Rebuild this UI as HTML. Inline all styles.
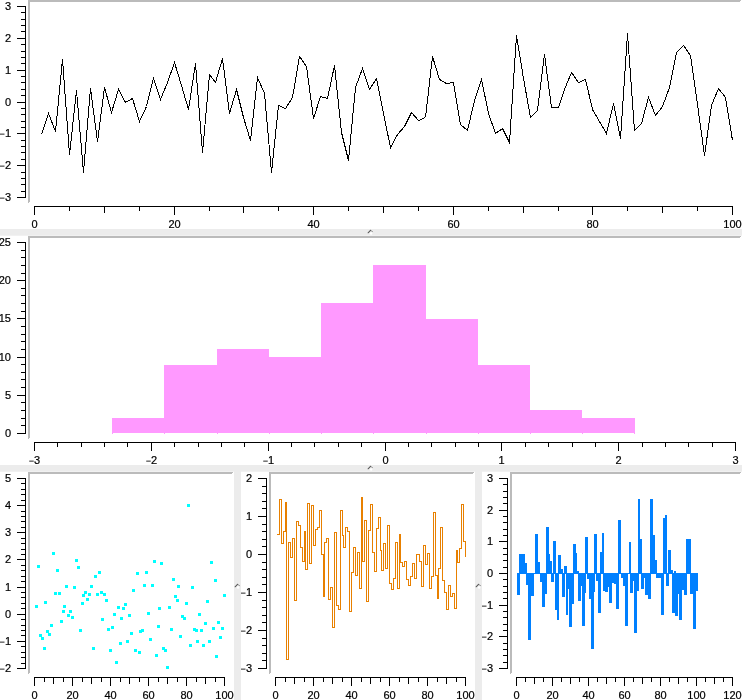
<!DOCTYPE html>
<html lang="en">
<head>
<meta charset="utf-8">
<title>Graphs</title>
<style>
html,body{margin:0;padding:0;background:#fff;overflow:hidden}
svg{display:block}
svg text .m{font-size:9px;stroke-width:.1px}
svg text{font-family:"Liberation Sans", sans-serif;font-size:11px;fill:#000;stroke:#000;stroke-width:.2px}
</style>
</head>
<body>
<svg width="742" height="700" viewBox="0 0 742 700" shape-rendering="crispEdges">
<rect x="0" y="0" width="742" height="700" fill="#fff"/>
<rect x="0" y="229" width="742" height="6" fill="#ececec"/>
<rect x="0" y="235" width="742" height="1" fill="#f1f1f1"/>
<rect x="0" y="465" width="742" height="6" fill="#ececec"/>
<rect x="0" y="471" width="742" height="1" fill="#f1f1f1"/>
<rect x="234" y="471" width="7" height="229" fill="#ececec"/>
<rect x="475" y="471" width="7" height="229" fill="#ececec"/>
<g shape-rendering="geometricPrecision" fill="none" stroke-linecap="round"><circle cx="371.1" cy="233.5" r="1.25" fill="#fff"/><path d="M370.5,230.3Q371.8,230.5 372.5,231.7" stroke="#8a8a8a" stroke-width="1"/><path d="M368.1,232.8L370.5,230.3" stroke="#585858" stroke-width="1.05"/></g>
<g shape-rendering="geometricPrecision" fill="none" stroke-linecap="round"><circle cx="371.1" cy="469.5" r="1.25" fill="#fff"/><path d="M370.5,466.3Q371.8,466.5 372.5,467.7" stroke="#8a8a8a" stroke-width="1"/><path d="M368.1,468.8L370.5,466.3" stroke="#585858" stroke-width="1.05"/></g>
<g shape-rendering="geometricPrecision" fill="none" stroke-linecap="round"><circle cx="238.1" cy="587.5" r="1.25" fill="#fff"/><path d="M237.5,584.3Q238.8,584.5 239.5,585.7" stroke="#8a8a8a" stroke-width="1"/><path d="M235.1,586.8L237.5,584.3" stroke="#585858" stroke-width="1.05"/></g>
<g shape-rendering="geometricPrecision" fill="none" stroke-linecap="round"><circle cx="479.1" cy="587.5" r="1.25" fill="#fff"/><path d="M478.5,584.3Q479.8,584.5 480.5,585.7" stroke="#8a8a8a" stroke-width="1"/><path d="M476.1,586.8L478.5,584.3" stroke="#585858" stroke-width="1.05"/></g>
<rect x="28" y="0" width="713" height="1" fill="#bbbbbb"/>
<rect x="28" y="1" width="712" height="1" fill="#bbbbbb"/>
<rect x="28" y="0" width="1" height="203" fill="#bbbbbb"/>
<rect x="29" y="0" width="1" height="202" fill="#bbbbbb"/>
<rect x="28" y="236" width="713" height="1" fill="#bbbbbb"/>
<rect x="28" y="237" width="712" height="1" fill="#bbbbbb"/>
<rect x="28" y="236" width="1" height="203" fill="#bbbbbb"/>
<rect x="29" y="236" width="1" height="202" fill="#bbbbbb"/>
<rect x="28" y="472" width="205" height="1" fill="#bbbbbb"/>
<rect x="28" y="473" width="204" height="1" fill="#bbbbbb"/>
<rect x="28" y="472" width="1" height="202" fill="#bbbbbb"/>
<rect x="29" y="472" width="1" height="201" fill="#bbbbbb"/>
<rect x="269" y="472" width="205" height="1" fill="#bbbbbb"/>
<rect x="269" y="473" width="204" height="1" fill="#bbbbbb"/>
<rect x="269" y="472" width="1" height="202" fill="#bbbbbb"/>
<rect x="270" y="472" width="1" height="201" fill="#bbbbbb"/>
<rect x="510" y="472" width="231" height="1" fill="#bbbbbb"/>
<rect x="510" y="473" width="230" height="1" fill="#bbbbbb"/>
<rect x="510" y="472" width="1" height="202" fill="#bbbbbb"/>
<rect x="511" y="472" width="1" height="201" fill="#bbbbbb"/>
<rect x="25" y="6" width="1" height="192" fill="#000"/>
<rect x="17" y="6" width="9" height="1" fill="#000"/>
<text x="11" y="10" text-anchor="end">3</text>
<rect x="21" y="12" width="5" height="1" fill="#000"/>
<rect x="21" y="19" width="5" height="1" fill="#000"/>
<rect x="21" y="25" width="5" height="1" fill="#000"/>
<rect x="21" y="31" width="5" height="1" fill="#000"/>
<rect x="17" y="38" width="9" height="1" fill="#000"/>
<text x="11" y="42" text-anchor="end">2</text>
<rect x="21" y="44" width="5" height="1" fill="#000"/>
<rect x="21" y="51" width="5" height="1" fill="#000"/>
<rect x="21" y="57" width="5" height="1" fill="#000"/>
<rect x="21" y="63" width="5" height="1" fill="#000"/>
<rect x="17" y="70" width="9" height="1" fill="#000"/>
<text x="11" y="74" text-anchor="end">1</text>
<rect x="21" y="76" width="5" height="1" fill="#000"/>
<rect x="21" y="82" width="5" height="1" fill="#000"/>
<rect x="21" y="89" width="5" height="1" fill="#000"/>
<rect x="21" y="95" width="5" height="1" fill="#000"/>
<rect x="17" y="102" width="9" height="1" fill="#000"/>
<text x="11" y="106" text-anchor="end">0</text>
<rect x="21" y="108" width="5" height="1" fill="#000"/>
<rect x="21" y="114" width="5" height="1" fill="#000"/>
<rect x="21" y="121" width="5" height="1" fill="#000"/>
<rect x="21" y="127" width="5" height="1" fill="#000"/>
<rect x="17" y="133" width="9" height="1" fill="#000"/>
<text x="11" y="137" text-anchor="end"><tspan class="m" dy="-.3">−</tspan><tspan dy=".3">1</tspan></text>
<rect x="21" y="140" width="5" height="1" fill="#000"/>
<rect x="21" y="146" width="5" height="1" fill="#000"/>
<rect x="21" y="152" width="5" height="1" fill="#000"/>
<rect x="21" y="159" width="5" height="1" fill="#000"/>
<rect x="17" y="165" width="9" height="1" fill="#000"/>
<text x="11" y="169" text-anchor="end"><tspan class="m" dy="-.3">−</tspan><tspan dy=".3">2</tspan></text>
<rect x="21" y="172" width="5" height="1" fill="#000"/>
<rect x="21" y="178" width="5" height="1" fill="#000"/>
<rect x="21" y="184" width="5" height="1" fill="#000"/>
<rect x="21" y="191" width="5" height="1" fill="#000"/>
<rect x="17" y="197" width="9" height="1" fill="#000"/>
<text x="11" y="201" text-anchor="end"><tspan class="m" dy="-.3">−</tspan><tspan dy=".3">3</tspan></text>
<rect x="34" y="206" width="699" height="1" fill="#000"/>
<rect x="34" y="206" width="1" height="9" fill="#000"/>
<text x="34.5" y="228" text-anchor="middle">0</text>
<rect x="69" y="206" width="1" height="5" fill="#000"/>
<rect x="104" y="206" width="1" height="7" fill="#000"/>
<rect x="139" y="206" width="1" height="5" fill="#000"/>
<rect x="174" y="206" width="1" height="9" fill="#000"/>
<text x="174.5" y="228" text-anchor="middle">20</text>
<rect x="209" y="206" width="1" height="5" fill="#000"/>
<rect x="243" y="206" width="1" height="7" fill="#000"/>
<rect x="278" y="206" width="1" height="5" fill="#000"/>
<rect x="313" y="206" width="1" height="9" fill="#000"/>
<text x="313.5" y="228" text-anchor="middle">40</text>
<rect x="348" y="206" width="1" height="5" fill="#000"/>
<rect x="383" y="206" width="1" height="7" fill="#000"/>
<rect x="418" y="206" width="1" height="5" fill="#000"/>
<rect x="453" y="206" width="1" height="9" fill="#000"/>
<text x="453.5" y="228" text-anchor="middle">60</text>
<rect x="488" y="206" width="1" height="5" fill="#000"/>
<rect x="523" y="206" width="1" height="7" fill="#000"/>
<rect x="558" y="206" width="1" height="5" fill="#000"/>
<rect x="592" y="206" width="1" height="9" fill="#000"/>
<text x="592.5" y="228" text-anchor="middle">80</text>
<rect x="627" y="206" width="1" height="5" fill="#000"/>
<rect x="662" y="206" width="1" height="7" fill="#000"/>
<rect x="697" y="206" width="1" height="5" fill="#000"/>
<rect x="732" y="206" width="1" height="9" fill="#000"/>
<text x="732.5" y="228" text-anchor="middle">100</text>
<rect x="25" y="242" width="1" height="192" fill="#000"/>
<rect x="17" y="242" width="9" height="1" fill="#000"/>
<text x="11" y="246" text-anchor="end">25</text>
<rect x="21" y="250" width="5" height="1" fill="#000"/>
<rect x="21" y="257" width="5" height="1" fill="#000"/>
<rect x="21" y="265" width="5" height="1" fill="#000"/>
<rect x="21" y="273" width="5" height="1" fill="#000"/>
<rect x="17" y="280" width="9" height="1" fill="#000"/>
<text x="11" y="284" text-anchor="end">20</text>
<rect x="21" y="288" width="5" height="1" fill="#000"/>
<rect x="21" y="295" width="5" height="1" fill="#000"/>
<rect x="21" y="303" width="5" height="1" fill="#000"/>
<rect x="21" y="311" width="5" height="1" fill="#000"/>
<rect x="17" y="318" width="9" height="1" fill="#000"/>
<text x="11" y="322" text-anchor="end">15</text>
<rect x="21" y="326" width="5" height="1" fill="#000"/>
<rect x="21" y="334" width="5" height="1" fill="#000"/>
<rect x="21" y="341" width="5" height="1" fill="#000"/>
<rect x="21" y="349" width="5" height="1" fill="#000"/>
<rect x="17" y="357" width="9" height="1" fill="#000"/>
<text x="11" y="361" text-anchor="end">10</text>
<rect x="21" y="364" width="5" height="1" fill="#000"/>
<rect x="21" y="372" width="5" height="1" fill="#000"/>
<rect x="21" y="379" width="5" height="1" fill="#000"/>
<rect x="21" y="387" width="5" height="1" fill="#000"/>
<rect x="17" y="395" width="9" height="1" fill="#000"/>
<text x="11" y="399" text-anchor="end">5</text>
<rect x="21" y="402" width="5" height="1" fill="#000"/>
<rect x="21" y="410" width="5" height="1" fill="#000"/>
<rect x="21" y="418" width="5" height="1" fill="#000"/>
<rect x="21" y="425" width="5" height="1" fill="#000"/>
<rect x="17" y="433" width="9" height="1" fill="#000"/>
<text x="11" y="437" text-anchor="end">0</text>
<rect x="34" y="442" width="702" height="1" fill="#000"/>
<rect x="34" y="442" width="1" height="9" fill="#000"/>
<text x="34.5" y="464" text-anchor="middle"><tspan class="m" dy="-.3">−</tspan><tspan dy=".3">3</tspan></text>
<rect x="57" y="442" width="1" height="5" fill="#000"/>
<rect x="81" y="442" width="1" height="5" fill="#000"/>
<rect x="104" y="442" width="1" height="5" fill="#000"/>
<rect x="127" y="442" width="1" height="5" fill="#000"/>
<rect x="151" y="442" width="1" height="9" fill="#000"/>
<text x="151.5" y="464" text-anchor="middle"><tspan class="m" dy="-.3">−</tspan><tspan dy=".3">2</tspan></text>
<rect x="174" y="442" width="1" height="5" fill="#000"/>
<rect x="198" y="442" width="1" height="5" fill="#000"/>
<rect x="221" y="442" width="1" height="5" fill="#000"/>
<rect x="244" y="442" width="1" height="5" fill="#000"/>
<rect x="268" y="442" width="1" height="9" fill="#000"/>
<text x="268.5" y="464" text-anchor="middle"><tspan class="m" dy="-.3">−</tspan><tspan dy=".3">1</tspan></text>
<rect x="291" y="442" width="1" height="5" fill="#000"/>
<rect x="314" y="442" width="1" height="5" fill="#000"/>
<rect x="338" y="442" width="1" height="5" fill="#000"/>
<rect x="361" y="442" width="1" height="5" fill="#000"/>
<rect x="385" y="442" width="1" height="9" fill="#000"/>
<text x="385.5" y="464" text-anchor="middle">0</text>
<rect x="408" y="442" width="1" height="5" fill="#000"/>
<rect x="431" y="442" width="1" height="5" fill="#000"/>
<rect x="455" y="442" width="1" height="5" fill="#000"/>
<rect x="478" y="442" width="1" height="5" fill="#000"/>
<rect x="501" y="442" width="1" height="9" fill="#000"/>
<text x="501.5" y="464" text-anchor="middle">1</text>
<rect x="525" y="442" width="1" height="5" fill="#000"/>
<rect x="548" y="442" width="1" height="5" fill="#000"/>
<rect x="572" y="442" width="1" height="5" fill="#000"/>
<rect x="595" y="442" width="1" height="5" fill="#000"/>
<rect x="618" y="442" width="1" height="9" fill="#000"/>
<text x="618.5" y="464" text-anchor="middle">2</text>
<rect x="642" y="442" width="1" height="5" fill="#000"/>
<rect x="665" y="442" width="1" height="5" fill="#000"/>
<rect x="688" y="442" width="1" height="5" fill="#000"/>
<rect x="712" y="442" width="1" height="5" fill="#000"/>
<rect x="735" y="442" width="1" height="9" fill="#000"/>
<text x="735.5" y="464" text-anchor="middle">3</text>
<rect x="25" y="478" width="1" height="191" fill="#000"/>
<rect x="17" y="478" width="9" height="1" fill="#000"/>
<text x="11" y="482" text-anchor="end">5</text>
<rect x="21" y="483" width="5" height="1" fill="#000"/>
<rect x="21" y="489" width="5" height="1" fill="#000"/>
<rect x="21" y="494" width="5" height="1" fill="#000"/>
<rect x="21" y="500" width="5" height="1" fill="#000"/>
<rect x="17" y="505" width="9" height="1" fill="#000"/>
<text x="11" y="509" text-anchor="end">4</text>
<rect x="21" y="511" width="5" height="1" fill="#000"/>
<rect x="21" y="516" width="5" height="1" fill="#000"/>
<rect x="21" y="521" width="5" height="1" fill="#000"/>
<rect x="21" y="527" width="5" height="1" fill="#000"/>
<rect x="17" y="532" width="9" height="1" fill="#000"/>
<text x="11" y="536" text-anchor="end">3</text>
<rect x="21" y="538" width="5" height="1" fill="#000"/>
<rect x="21" y="543" width="5" height="1" fill="#000"/>
<rect x="21" y="549" width="5" height="1" fill="#000"/>
<rect x="21" y="554" width="5" height="1" fill="#000"/>
<rect x="17" y="559" width="9" height="1" fill="#000"/>
<text x="11" y="563" text-anchor="end">2</text>
<rect x="21" y="565" width="5" height="1" fill="#000"/>
<rect x="21" y="570" width="5" height="1" fill="#000"/>
<rect x="21" y="576" width="5" height="1" fill="#000"/>
<rect x="21" y="581" width="5" height="1" fill="#000"/>
<rect x="17" y="587" width="9" height="1" fill="#000"/>
<text x="11" y="591" text-anchor="end">1</text>
<rect x="21" y="592" width="5" height="1" fill="#000"/>
<rect x="21" y="597" width="5" height="1" fill="#000"/>
<rect x="21" y="603" width="5" height="1" fill="#000"/>
<rect x="21" y="608" width="5" height="1" fill="#000"/>
<rect x="17" y="614" width="9" height="1" fill="#000"/>
<text x="11" y="618" text-anchor="end">0</text>
<rect x="21" y="619" width="5" height="1" fill="#000"/>
<rect x="21" y="625" width="5" height="1" fill="#000"/>
<rect x="21" y="630" width="5" height="1" fill="#000"/>
<rect x="21" y="635" width="5" height="1" fill="#000"/>
<rect x="17" y="641" width="9" height="1" fill="#000"/>
<text x="11" y="645" text-anchor="end"><tspan class="m" dy="-.3">−</tspan><tspan dy=".3">1</tspan></text>
<rect x="21" y="646" width="5" height="1" fill="#000"/>
<rect x="21" y="652" width="5" height="1" fill="#000"/>
<rect x="21" y="657" width="5" height="1" fill="#000"/>
<rect x="21" y="663" width="5" height="1" fill="#000"/>
<rect x="17" y="668" width="9" height="1" fill="#000"/>
<text x="11" y="672" text-anchor="end"><tspan class="m" dy="-.3">−</tspan><tspan dy=".3">2</tspan></text>
<rect x="34" y="677" width="191" height="1" fill="#000"/>
<rect x="34" y="677" width="1" height="9" fill="#000"/>
<text x="34.5" y="699" text-anchor="middle">0</text>
<rect x="44" y="677" width="1" height="5" fill="#000"/>
<rect x="53" y="677" width="1" height="7" fill="#000"/>
<rect x="63" y="677" width="1" height="5" fill="#000"/>
<rect x="72" y="677" width="1" height="9" fill="#000"/>
<text x="72.5" y="699" text-anchor="middle">20</text>
<rect x="82" y="677" width="1" height="5" fill="#000"/>
<rect x="91" y="677" width="1" height="7" fill="#000"/>
<rect x="101" y="677" width="1" height="5" fill="#000"/>
<rect x="110" y="677" width="1" height="9" fill="#000"/>
<text x="110.5" y="699" text-anchor="middle">40</text>
<rect x="120" y="677" width="1" height="5" fill="#000"/>
<rect x="129" y="677" width="1" height="7" fill="#000"/>
<rect x="139" y="677" width="1" height="5" fill="#000"/>
<rect x="148" y="677" width="1" height="9" fill="#000"/>
<text x="148.5" y="699" text-anchor="middle">60</text>
<rect x="158" y="677" width="1" height="5" fill="#000"/>
<rect x="167" y="677" width="1" height="7" fill="#000"/>
<rect x="177" y="677" width="1" height="5" fill="#000"/>
<rect x="186" y="677" width="1" height="9" fill="#000"/>
<text x="186.5" y="699" text-anchor="middle">80</text>
<rect x="196" y="677" width="1" height="5" fill="#000"/>
<rect x="205" y="677" width="1" height="7" fill="#000"/>
<rect x="215" y="677" width="1" height="5" fill="#000"/>
<rect x="224" y="677" width="1" height="9" fill="#000"/>
<text x="224.5" y="699" text-anchor="middle">100</text>
<rect x="266" y="478" width="1" height="191" fill="#000"/>
<rect x="258" y="478" width="9" height="1" fill="#000"/>
<text x="252" y="482" text-anchor="end">2</text>
<rect x="262" y="486" width="5" height="1" fill="#000"/>
<rect x="262" y="493" width="5" height="1" fill="#000"/>
<rect x="262" y="501" width="5" height="1" fill="#000"/>
<rect x="262" y="508" width="5" height="1" fill="#000"/>
<rect x="258" y="516" width="9" height="1" fill="#000"/>
<text x="252" y="520" text-anchor="end">1</text>
<rect x="262" y="524" width="5" height="1" fill="#000"/>
<rect x="262" y="531" width="5" height="1" fill="#000"/>
<rect x="262" y="539" width="5" height="1" fill="#000"/>
<rect x="262" y="546" width="5" height="1" fill="#000"/>
<rect x="258" y="554" width="9" height="1" fill="#000"/>
<text x="252" y="558" text-anchor="end">0</text>
<rect x="262" y="562" width="5" height="1" fill="#000"/>
<rect x="262" y="569" width="5" height="1" fill="#000"/>
<rect x="262" y="577" width="5" height="1" fill="#000"/>
<rect x="262" y="584" width="5" height="1" fill="#000"/>
<rect x="258" y="592" width="9" height="1" fill="#000"/>
<text x="252" y="596" text-anchor="end"><tspan class="m" dy="-.3">−</tspan><tspan dy=".3">1</tspan></text>
<rect x="262" y="600" width="5" height="1" fill="#000"/>
<rect x="262" y="607" width="5" height="1" fill="#000"/>
<rect x="262" y="615" width="5" height="1" fill="#000"/>
<rect x="262" y="622" width="5" height="1" fill="#000"/>
<rect x="258" y="630" width="9" height="1" fill="#000"/>
<text x="252" y="634" text-anchor="end"><tspan class="m" dy="-.3">−</tspan><tspan dy=".3">2</tspan></text>
<rect x="262" y="638" width="5" height="1" fill="#000"/>
<rect x="262" y="645" width="5" height="1" fill="#000"/>
<rect x="262" y="653" width="5" height="1" fill="#000"/>
<rect x="262" y="660" width="5" height="1" fill="#000"/>
<rect x="258" y="668" width="9" height="1" fill="#000"/>
<text x="252" y="672" text-anchor="end"><tspan class="m" dy="-.3">−</tspan><tspan dy=".3">3</tspan></text>
<rect x="275" y="677" width="191" height="1" fill="#000"/>
<rect x="275" y="677" width="1" height="9" fill="#000"/>
<text x="275.5" y="699" text-anchor="middle">0</text>
<rect x="285" y="677" width="1" height="5" fill="#000"/>
<rect x="294" y="677" width="1" height="7" fill="#000"/>
<rect x="304" y="677" width="1" height="5" fill="#000"/>
<rect x="313" y="677" width="1" height="9" fill="#000"/>
<text x="313.5" y="699" text-anchor="middle">20</text>
<rect x="323" y="677" width="1" height="5" fill="#000"/>
<rect x="332" y="677" width="1" height="7" fill="#000"/>
<rect x="342" y="677" width="1" height="5" fill="#000"/>
<rect x="351" y="677" width="1" height="9" fill="#000"/>
<text x="351.5" y="699" text-anchor="middle">40</text>
<rect x="361" y="677" width="1" height="5" fill="#000"/>
<rect x="370" y="677" width="1" height="7" fill="#000"/>
<rect x="380" y="677" width="1" height="5" fill="#000"/>
<rect x="389" y="677" width="1" height="9" fill="#000"/>
<text x="389.5" y="699" text-anchor="middle">60</text>
<rect x="399" y="677" width="1" height="5" fill="#000"/>
<rect x="408" y="677" width="1" height="7" fill="#000"/>
<rect x="418" y="677" width="1" height="5" fill="#000"/>
<rect x="427" y="677" width="1" height="9" fill="#000"/>
<text x="427.5" y="699" text-anchor="middle">80</text>
<rect x="437" y="677" width="1" height="5" fill="#000"/>
<rect x="446" y="677" width="1" height="7" fill="#000"/>
<rect x="456" y="677" width="1" height="5" fill="#000"/>
<rect x="465" y="677" width="1" height="9" fill="#000"/>
<text x="465.5" y="699" text-anchor="middle">100</text>
<rect x="507" y="478" width="1" height="191" fill="#000"/>
<rect x="499" y="478" width="9" height="1" fill="#000"/>
<text x="493" y="482" text-anchor="end">3</text>
<rect x="503" y="484" width="5" height="1" fill="#000"/>
<rect x="503" y="491" width="5" height="1" fill="#000"/>
<rect x="503" y="497" width="5" height="1" fill="#000"/>
<rect x="503" y="503" width="5" height="1" fill="#000"/>
<rect x="499" y="510" width="9" height="1" fill="#000"/>
<text x="493" y="514" text-anchor="end">2</text>
<rect x="503" y="516" width="5" height="1" fill="#000"/>
<rect x="503" y="522" width="5" height="1" fill="#000"/>
<rect x="503" y="529" width="5" height="1" fill="#000"/>
<rect x="503" y="535" width="5" height="1" fill="#000"/>
<rect x="499" y="541" width="9" height="1" fill="#000"/>
<text x="493" y="545" text-anchor="end">1</text>
<rect x="503" y="548" width="5" height="1" fill="#000"/>
<rect x="503" y="554" width="5" height="1" fill="#000"/>
<rect x="503" y="560" width="5" height="1" fill="#000"/>
<rect x="503" y="567" width="5" height="1" fill="#000"/>
<rect x="499" y="573" width="9" height="1" fill="#000"/>
<text x="493" y="577" text-anchor="end">0</text>
<rect x="503" y="579" width="5" height="1" fill="#000"/>
<rect x="503" y="586" width="5" height="1" fill="#000"/>
<rect x="503" y="592" width="5" height="1" fill="#000"/>
<rect x="503" y="598" width="5" height="1" fill="#000"/>
<rect x="499" y="605" width="9" height="1" fill="#000"/>
<text x="493" y="609" text-anchor="end"><tspan class="m" dy="-.3">−</tspan><tspan dy=".3">1</tspan></text>
<rect x="503" y="611" width="5" height="1" fill="#000"/>
<rect x="503" y="617" width="5" height="1" fill="#000"/>
<rect x="503" y="624" width="5" height="1" fill="#000"/>
<rect x="503" y="630" width="5" height="1" fill="#000"/>
<rect x="499" y="636" width="9" height="1" fill="#000"/>
<text x="493" y="640" text-anchor="end"><tspan class="m" dy="-.3">−</tspan><tspan dy=".3">2</tspan></text>
<rect x="503" y="643" width="5" height="1" fill="#000"/>
<rect x="503" y="649" width="5" height="1" fill="#000"/>
<rect x="503" y="655" width="5" height="1" fill="#000"/>
<rect x="503" y="662" width="5" height="1" fill="#000"/>
<rect x="499" y="668" width="9" height="1" fill="#000"/>
<text x="493" y="672" text-anchor="end"><tspan class="m" dy="-.3">−</tspan><tspan dy=".3">3</tspan></text>
<rect x="516" y="677" width="217" height="1" fill="#000"/>
<rect x="516" y="677" width="1" height="9" fill="#000"/>
<text x="516.5" y="699" text-anchor="middle">0</text>
<rect x="525" y="677" width="1" height="5" fill="#000"/>
<rect x="534" y="677" width="1" height="7" fill="#000"/>
<rect x="543" y="677" width="1" height="5" fill="#000"/>
<rect x="552" y="677" width="1" height="9" fill="#000"/>
<text x="552.5" y="699" text-anchor="middle">20</text>
<rect x="561" y="677" width="1" height="5" fill="#000"/>
<rect x="570" y="677" width="1" height="7" fill="#000"/>
<rect x="579" y="677" width="1" height="5" fill="#000"/>
<rect x="588" y="677" width="1" height="9" fill="#000"/>
<text x="588.5" y="699" text-anchor="middle">40</text>
<rect x="597" y="677" width="1" height="5" fill="#000"/>
<rect x="606" y="677" width="1" height="7" fill="#000"/>
<rect x="615" y="677" width="1" height="5" fill="#000"/>
<rect x="624" y="677" width="1" height="9" fill="#000"/>
<text x="624.5" y="699" text-anchor="middle">60</text>
<rect x="633" y="677" width="1" height="5" fill="#000"/>
<rect x="642" y="677" width="1" height="7" fill="#000"/>
<rect x="651" y="677" width="1" height="5" fill="#000"/>
<rect x="660" y="677" width="1" height="9" fill="#000"/>
<text x="660.5" y="699" text-anchor="middle">80</text>
<rect x="669" y="677" width="1" height="5" fill="#000"/>
<rect x="678" y="677" width="1" height="7" fill="#000"/>
<rect x="687" y="677" width="1" height="5" fill="#000"/>
<rect x="696" y="677" width="1" height="9" fill="#000"/>
<text x="696.5" y="699" text-anchor="middle">100</text>
<rect x="705" y="677" width="1" height="5" fill="#000"/>
<rect x="714" y="677" width="1" height="7" fill="#000"/>
<rect x="723" y="677" width="1" height="5" fill="#000"/>
<rect x="732" y="677" width="1" height="9" fill="#000"/>
<text x="732.5" y="699" text-anchor="middle">120</text>
<polyline points="41.5,134.5 48.5,113.5 55.5,131.5 62.5,59.5 69.5,154.5 76.5,90.5 83.5,172.5 90.5,88.5 97.5,141.5 104.5,87.5 111.5,112.5 118.5,89.5 125.5,102.5 132.5,98.5 139.5,121.5 146.5,106.5 153.5,78.5 160.5,99.5 167.5,82.5 174.5,62.5 181.5,85.5 188.5,109.5 195.5,63.5 202.5,152.5 209.5,74.5 215.5,82.5 222.5,58.5 229.5,113.5 236.5,89.5 243.5,117.5 250.5,140.5 257.5,77.5 264.5,93.5 271.5,172.5 278.5,105.5 285.5,108.5 292.5,97.5 299.5,56.5 306.5,66.5 313.5,118.5 320.5,96.5 327.5,98.5 334.5,65.5 341.5,132.5 348.5,160.5 355.5,87.5 362.5,68.5 369.5,89.5 376.5,78.5 383.5,113.5 390.5,147.5 397.5,134.5 404.5,126.5 411.5,112.5 418.5,120.5 425.5,117.5 432.5,56.5 439.5,79.5 446.5,83.5 453.5,82.5 460.5,124.5 467.5,130.5 474.5,100.5 481.5,79.5 488.5,113.5 495.5,133.5 502.5,128.5 509.5,142.5 516.5,35.5 523.5,78.5 530.5,117.5 537.5,110.5 544.5,54.5 551.5,107.5 558.5,107.5 564.5,89.5 571.5,72.5 578.5,82.5 585.5,79.5 592.5,109.5 599.5,121.5 606.5,133.5 613.5,103.5 620.5,138.5 627.5,33.5 634.5,130.5 641.5,123.5 648.5,97.5 655.5,115.5 662.5,106.5 669.5,87.5 676.5,52.5 683.5,45.5 690.5,55.5 697.5,104.5 704.5,155.5 711.5,105.5 718.5,88.5 725.5,97.5 732.5,140.5" fill="none" stroke="#000" stroke-width="1"/>
<rect x="112" y="418" width="52" height="15" fill="#ff99ff"/>
<rect x="112" y="433" width="1" height="1" fill="#ff99ff"/>
<rect x="164" y="365" width="53" height="68" fill="#ff99ff"/>
<rect x="164" y="433" width="1" height="1" fill="#ff99ff"/>
<rect x="217" y="349" width="52" height="84" fill="#ff99ff"/>
<rect x="217" y="433" width="1" height="1" fill="#ff99ff"/>
<rect x="269" y="357" width="52" height="76" fill="#ff99ff"/>
<rect x="269" y="433" width="1" height="1" fill="#ff99ff"/>
<rect x="321" y="303" width="52" height="130" fill="#ff99ff"/>
<rect x="321" y="433" width="1" height="1" fill="#ff99ff"/>
<rect x="373" y="265" width="53" height="168" fill="#ff99ff"/>
<rect x="373" y="433" width="1" height="1" fill="#ff99ff"/>
<rect x="426" y="319" width="52" height="114" fill="#ff99ff"/>
<rect x="426" y="433" width="1" height="1" fill="#ff99ff"/>
<rect x="478" y="365" width="52" height="68" fill="#ff99ff"/>
<rect x="478" y="433" width="1" height="1" fill="#ff99ff"/>
<rect x="530" y="410" width="52" height="23" fill="#ff99ff"/>
<rect x="530" y="433" width="1" height="1" fill="#ff99ff"/>
<rect x="582" y="418" width="53" height="15" fill="#ff99ff"/>
<rect x="582" y="433" width="1" height="1" fill="#ff99ff"/>
<rect x="634" y="433" width="1" height="1" fill="#ff99ff"/>
<rect x="35" y="605" width="3" height="3" fill="#00ffff"/>
<rect x="37" y="565" width="3" height="3" fill="#00ffff"/>
<rect x="39" y="634" width="3" height="3" fill="#00ffff"/>
<rect x="41" y="637" width="3" height="3" fill="#00ffff"/>
<rect x="43" y="647" width="3" height="3" fill="#00ffff"/>
<rect x="44" y="601" width="3" height="3" fill="#00ffff"/>
<rect x="46" y="630" width="3" height="3" fill="#00ffff"/>
<rect x="48" y="633" width="3" height="3" fill="#00ffff"/>
<rect x="50" y="624" width="3" height="3" fill="#00ffff"/>
<rect x="52" y="552" width="3" height="3" fill="#00ffff"/>
<rect x="54" y="592" width="3" height="3" fill="#00ffff"/>
<rect x="56" y="569" width="3" height="3" fill="#00ffff"/>
<rect x="58" y="592" width="3" height="3" fill="#00ffff"/>
<rect x="60" y="620" width="3" height="3" fill="#00ffff"/>
<rect x="62" y="610" width="3" height="3" fill="#00ffff"/>
<rect x="63" y="605" width="3" height="3" fill="#00ffff"/>
<rect x="65" y="585" width="3" height="3" fill="#00ffff"/>
<rect x="67" y="614" width="3" height="3" fill="#00ffff"/>
<rect x="69" y="610" width="3" height="3" fill="#00ffff"/>
<rect x="71" y="616" width="3" height="3" fill="#00ffff"/>
<rect x="73" y="586" width="3" height="3" fill="#00ffff"/>
<rect x="75" y="559" width="3" height="3" fill="#00ffff"/>
<rect x="77" y="566" width="3" height="3" fill="#00ffff"/>
<rect x="79" y="629" width="3" height="3" fill="#00ffff"/>
<rect x="81" y="602" width="3" height="3" fill="#00ffff"/>
<rect x="82" y="594" width="3" height="3" fill="#00ffff"/>
<rect x="84" y="591" width="3" height="3" fill="#00ffff"/>
<rect x="86" y="598" width="3" height="3" fill="#00ffff"/>
<rect x="88" y="593" width="3" height="3" fill="#00ffff"/>
<rect x="90" y="585" width="3" height="3" fill="#00ffff"/>
<rect x="92" y="647" width="3" height="3" fill="#00ffff"/>
<rect x="94" y="575" width="3" height="3" fill="#00ffff"/>
<rect x="96" y="593" width="3" height="3" fill="#00ffff"/>
<rect x="98" y="571" width="3" height="3" fill="#00ffff"/>
<rect x="100" y="591" width="3" height="3" fill="#00ffff"/>
<rect x="101" y="618" width="3" height="3" fill="#00ffff"/>
<rect x="103" y="593" width="3" height="3" fill="#00ffff"/>
<rect x="105" y="599" width="3" height="3" fill="#00ffff"/>
<rect x="107" y="628" width="3" height="3" fill="#00ffff"/>
<rect x="109" y="649" width="3" height="3" fill="#00ffff"/>
<rect x="111" y="626" width="3" height="3" fill="#00ffff"/>
<rect x="113" y="613" width="3" height="3" fill="#00ffff"/>
<rect x="115" y="661" width="3" height="3" fill="#00ffff"/>
<rect x="117" y="606" width="3" height="3" fill="#00ffff"/>
<rect x="119" y="642" width="3" height="3" fill="#00ffff"/>
<rect x="120" y="617" width="3" height="3" fill="#00ffff"/>
<rect x="122" y="607" width="3" height="3" fill="#00ffff"/>
<rect x="124" y="603" width="3" height="3" fill="#00ffff"/>
<rect x="126" y="640" width="3" height="3" fill="#00ffff"/>
<rect x="128" y="614" width="3" height="3" fill="#00ffff"/>
<rect x="130" y="632" width="3" height="3" fill="#00ffff"/>
<rect x="132" y="589" width="3" height="3" fill="#00ffff"/>
<rect x="134" y="649" width="3" height="3" fill="#00ffff"/>
<rect x="136" y="572" width="3" height="3" fill="#00ffff"/>
<rect x="138" y="651" width="3" height="3" fill="#00ffff"/>
<rect x="139" y="630" width="3" height="3" fill="#00ffff"/>
<rect x="141" y="629" width="3" height="3" fill="#00ffff"/>
<rect x="143" y="584" width="3" height="3" fill="#00ffff"/>
<rect x="145" y="571" width="3" height="3" fill="#00ffff"/>
<rect x="147" y="612" width="3" height="3" fill="#00ffff"/>
<rect x="149" y="638" width="3" height="3" fill="#00ffff"/>
<rect x="151" y="584" width="3" height="3" fill="#00ffff"/>
<rect x="153" y="560" width="3" height="3" fill="#00ffff"/>
<rect x="155" y="654" width="3" height="3" fill="#00ffff"/>
<rect x="157" y="625" width="3" height="3" fill="#00ffff"/>
<rect x="158" y="607" width="3" height="3" fill="#00ffff"/>
<rect x="160" y="562" width="3" height="3" fill="#00ffff"/>
<rect x="162" y="647" width="3" height="3" fill="#00ffff"/>
<rect x="164" y="649" width="3" height="3" fill="#00ffff"/>
<rect x="166" y="666" width="3" height="3" fill="#00ffff"/>
<rect x="168" y="606" width="3" height="3" fill="#00ffff"/>
<rect x="170" y="628" width="3" height="3" fill="#00ffff"/>
<rect x="172" y="578" width="3" height="3" fill="#00ffff"/>
<rect x="174" y="595" width="3" height="3" fill="#00ffff"/>
<rect x="176" y="599" width="3" height="3" fill="#00ffff"/>
<rect x="177" y="585" width="3" height="3" fill="#00ffff"/>
<rect x="179" y="635" width="3" height="3" fill="#00ffff"/>
<rect x="181" y="615" width="3" height="3" fill="#00ffff"/>
<rect x="183" y="617" width="3" height="3" fill="#00ffff"/>
<rect x="185" y="602" width="3" height="3" fill="#00ffff"/>
<rect x="187" y="504" width="3" height="3" fill="#00ffff"/>
<rect x="189" y="644" width="3" height="3" fill="#00ffff"/>
<rect x="191" y="586" width="3" height="3" fill="#00ffff"/>
<rect x="193" y="628" width="3" height="3" fill="#00ffff"/>
<rect x="195" y="629" width="3" height="3" fill="#00ffff"/>
<rect x="196" y="640" width="3" height="3" fill="#00ffff"/>
<rect x="198" y="613" width="3" height="3" fill="#00ffff"/>
<rect x="200" y="629" width="3" height="3" fill="#00ffff"/>
<rect x="202" y="644" width="3" height="3" fill="#00ffff"/>
<rect x="204" y="622" width="3" height="3" fill="#00ffff"/>
<rect x="206" y="600" width="3" height="3" fill="#00ffff"/>
<rect x="208" y="640" width="3" height="3" fill="#00ffff"/>
<rect x="210" y="561" width="3" height="3" fill="#00ffff"/>
<rect x="212" y="627" width="3" height="3" fill="#00ffff"/>
<rect x="214" y="579" width="3" height="3" fill="#00ffff"/>
<rect x="215" y="655" width="3" height="3" fill="#00ffff"/>
<rect x="217" y="621" width="3" height="3" fill="#00ffff"/>
<rect x="219" y="636" width="3" height="3" fill="#00ffff"/>
<rect x="221" y="627" width="3" height="3" fill="#00ffff"/>
<rect x="223" y="594" width="3" height="3" fill="#00ffff"/>
<path d="M277.5,534.5H279.5V499.5H281.5V543.5H283.5V531.5H285.5V502.5H286.5V659.5H288.5V542.5H290.5V557.5H292.5V538.5H294.5V600.5H296.5V521.5H298.5V525.5H300.5V547.5H302.5V561.5H304.5V531.5H305.5V569.5H307.5V503.5H309.5V563.5H311.5V505.5H313.5V545.5H315.5V529.5H317.5V527.5H319.5V510.5H321.5V554.5H323.5V596.5H324.5V542.5H326.5V538.5H328.5V599.5H330.5V587.5H332.5V627.5H334.5V532.5H336.5V605.5H338.5V609.5H340.5V510.5H342.5V535.5H343.5V547.5H345.5V527.5H347.5V531.5H349.5V611.5H351.5V572.5H353.5V547.5H355.5V575.5H357.5V552.5H359.5V588.5H361.5V497.5H362.5V561.5H364.5V520.5H366.5V601.5H368.5V530.5H370.5V504.5H372.5V552.5H374.5V571.5H376.5V528.5H378.5V517.5H380.5V550.5H381.5V570.5H383.5V543.5H385.5V568.5H387.5V525.5H389.5V583.5H391.5V589.5H393.5V578.5H395.5V542.5H397.5V588.5H399.5V534.5H400.5V562.5H402.5V566.5H404.5V561.5H406.5V579.5H408.5V585.5H410.5V576.5H412.5V563.5H414.5V578.5H416.5V554.5H418.5V554.5H419.5V561.5H421.5V586.5H423.5V545.5H425.5V564.5H427.5V553.5H429.5V588.5H431.5V576.5H433.5V512.5H435.5V575.5H437.5V598.5H438.5V568.5H440.5V527.5H442.5V580.5H444.5V592.5H446.5V609.5H448.5V585.5H450.5V596.5H452.5V593.5H454.5V608.5H456.5V550.5H457.5V562.5H459.5V548.5H461.5V504.5H463.5V541.5H465.5V556.5" fill="none" stroke="#e88000" stroke-width="1" stroke-linecap="square"/>
<rect x="517" y="573" width="3" height="22" fill="#0080ff"/>
<rect x="519" y="554" width="3" height="20" fill="#0080ff"/>
<rect x="521" y="554" width="2" height="20" fill="#0080ff"/>
<rect x="522" y="554" width="3" height="20" fill="#0080ff"/>
<rect x="524" y="563" width="3" height="11" fill="#0080ff"/>
<rect x="526" y="573" width="3" height="12" fill="#0080ff"/>
<rect x="528" y="573" width="3" height="67" fill="#0080ff"/>
<rect x="530" y="573" width="2" height="12" fill="#0080ff"/>
<rect x="531" y="573" width="3" height="23" fill="#0080ff"/>
<rect x="533" y="573" width="3" height="1" fill="#0080ff"/>
<rect x="535" y="534" width="3" height="40" fill="#0080ff"/>
<rect x="537" y="562" width="3" height="12" fill="#0080ff"/>
<rect x="539" y="573" width="2" height="1" fill="#0080ff"/>
<rect x="540" y="573" width="3" height="9" fill="#0080ff"/>
<rect x="542" y="573" width="3" height="34" fill="#0080ff"/>
<rect x="544" y="573" width="3" height="21" fill="#0080ff"/>
<rect x="546" y="527" width="3" height="47" fill="#0080ff"/>
<rect x="548" y="554" width="2" height="20" fill="#0080ff"/>
<rect x="549" y="561" width="3" height="13" fill="#0080ff"/>
<rect x="551" y="573" width="3" height="9" fill="#0080ff"/>
<rect x="553" y="541" width="3" height="33" fill="#0080ff"/>
<rect x="555" y="573" width="3" height="37" fill="#0080ff"/>
<rect x="557" y="573" width="2" height="47" fill="#0080ff"/>
<rect x="558" y="555" width="3" height="19" fill="#0080ff"/>
<rect x="560" y="569" width="3" height="5" fill="#0080ff"/>
<rect x="562" y="573" width="3" height="24" fill="#0080ff"/>
<rect x="564" y="566" width="3" height="8" fill="#0080ff"/>
<rect x="566" y="573" width="2" height="42" fill="#0080ff"/>
<rect x="567" y="573" width="3" height="16" fill="#0080ff"/>
<rect x="569" y="573" width="3" height="54" fill="#0080ff"/>
<rect x="571" y="573" width="3" height="31" fill="#0080ff"/>
<rect x="573" y="544" width="3" height="30" fill="#0080ff"/>
<rect x="575" y="553" width="2" height="21" fill="#0080ff"/>
<rect x="576" y="571" width="3" height="3" fill="#0080ff"/>
<rect x="578" y="573" width="3" height="28" fill="#0080ff"/>
<rect x="580" y="573" width="3" height="13" fill="#0080ff"/>
<rect x="582" y="573" width="3" height="53" fill="#0080ff"/>
<rect x="584" y="573" width="2" height="20" fill="#0080ff"/>
<rect x="585" y="537" width="3" height="37" fill="#0080ff"/>
<rect x="587" y="573" width="3" height="6" fill="#0080ff"/>
<rect x="589" y="573" width="3" height="26" fill="#0080ff"/>
<rect x="591" y="573" width="3" height="76" fill="#0080ff"/>
<rect x="593" y="573" width="2" height="19" fill="#0080ff"/>
<rect x="594" y="534" width="3" height="40" fill="#0080ff"/>
<rect x="596" y="573" width="3" height="8" fill="#0080ff"/>
<rect x="598" y="573" width="3" height="40" fill="#0080ff"/>
<rect x="600" y="552" width="3" height="22" fill="#0080ff"/>
<rect x="602" y="533" width="2" height="41" fill="#0080ff"/>
<rect x="603" y="573" width="3" height="18" fill="#0080ff"/>
<rect x="605" y="573" width="3" height="19" fill="#0080ff"/>
<rect x="607" y="573" width="3" height="14" fill="#0080ff"/>
<rect x="609" y="573" width="3" height="30" fill="#0080ff"/>
<rect x="611" y="573" width="2" height="9" fill="#0080ff"/>
<rect x="612" y="573" width="3" height="10" fill="#0080ff"/>
<rect x="614" y="573" width="3" height="11" fill="#0080ff"/>
<rect x="616" y="573" width="3" height="36" fill="#0080ff"/>
<rect x="618" y="520" width="3" height="54" fill="#0080ff"/>
<rect x="620" y="573" width="2" height="1" fill="#0080ff"/>
<rect x="621" y="573" width="3" height="5" fill="#0080ff"/>
<rect x="623" y="573" width="3" height="13" fill="#0080ff"/>
<rect x="625" y="573" width="3" height="53" fill="#0080ff"/>
<rect x="627" y="573" width="3" height="1" fill="#0080ff"/>
<rect x="629" y="542" width="2" height="32" fill="#0080ff"/>
<rect x="630" y="573" width="3" height="20" fill="#0080ff"/>
<rect x="632" y="573" width="3" height="8" fill="#0080ff"/>
<rect x="634" y="573" width="3" height="60" fill="#0080ff"/>
<rect x="636" y="573" width="3" height="18" fill="#0080ff"/>
<rect x="638" y="499" width="2" height="75" fill="#0080ff"/>
<rect x="639" y="539" width="3" height="35" fill="#0080ff"/>
<rect x="641" y="573" width="3" height="16" fill="#0080ff"/>
<rect x="643" y="573" width="3" height="5" fill="#0080ff"/>
<rect x="645" y="573" width="3" height="22" fill="#0080ff"/>
<rect x="647" y="573" width="2" height="22" fill="#0080ff"/>
<rect x="648" y="573" width="3" height="26" fill="#0080ff"/>
<rect x="650" y="499" width="3" height="75" fill="#0080ff"/>
<rect x="652" y="535" width="3" height="39" fill="#0080ff"/>
<rect x="654" y="560" width="3" height="14" fill="#0080ff"/>
<rect x="656" y="573" width="2" height="5" fill="#0080ff"/>
<rect x="657" y="573" width="3" height="5" fill="#0080ff"/>
<rect x="659" y="573" width="3" height="5" fill="#0080ff"/>
<rect x="661" y="573" width="3" height="42" fill="#0080ff"/>
<rect x="663" y="518" width="3" height="56" fill="#0080ff"/>
<rect x="665" y="515" width="2" height="59" fill="#0080ff"/>
<rect x="666" y="573" width="3" height="13" fill="#0080ff"/>
<rect x="668" y="550" width="3" height="24" fill="#0080ff"/>
<rect x="670" y="570" width="3" height="4" fill="#0080ff"/>
<rect x="672" y="573" width="3" height="40" fill="#0080ff"/>
<rect x="674" y="571" width="2" height="3" fill="#0080ff"/>
<rect x="675" y="573" width="3" height="43" fill="#0080ff"/>
<rect x="677" y="573" width="3" height="21" fill="#0080ff"/>
<rect x="679" y="573" width="3" height="47" fill="#0080ff"/>
<rect x="681" y="573" width="3" height="17" fill="#0080ff"/>
<rect x="683" y="573" width="2" height="17" fill="#0080ff"/>
<rect x="684" y="573" width="3" height="22" fill="#0080ff"/>
<rect x="686" y="539" width="3" height="35" fill="#0080ff"/>
<rect x="688" y="539" width="3" height="35" fill="#0080ff"/>
<rect x="690" y="573" width="3" height="21" fill="#0080ff"/>
<rect x="692" y="573" width="2" height="21" fill="#0080ff"/>
<rect x="693" y="573" width="3" height="56" fill="#0080ff"/>
<rect x="695" y="573" width="3" height="18" fill="#0080ff"/>
</svg>
</body>
</html>
